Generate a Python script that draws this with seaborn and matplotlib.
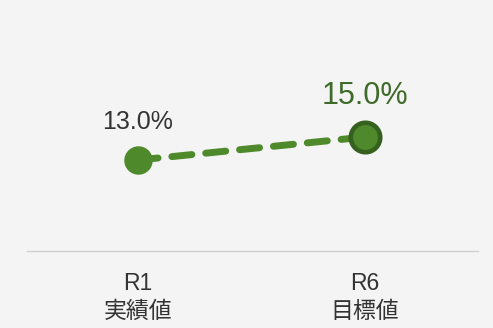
import matplotlib
matplotlib.use("Agg")
import matplotlib.pyplot as plt
import seaborn as sns
import pandas as pd

periods = ["R1", "R6"]
period_notes = ["実績値", "目標値"]
rates = [13.0, 15.0]
rate_labels = ["13.0%", "15.0%"]

sns.set_theme(style="white")
plt.rcParams["font.family"] = ["Liberation Sans", "Noto Sans CJK JP", "DejaVu Sans"]

bg = "#f4f4f4"
green = "#4e8a2c"
dark_green = "#35601e"

df = pd.DataFrame({"period": periods, "rate": rates})

fig = plt.figure(figsize=(4.93, 3.28), dpi=100, facecolor=bg)
ax = fig.add_axes([27 / 493, 1 - 251 / 328, 451 / 493, 251 / 328])
ax.set_facecolor(bg)

sns.lineplot(data=df, x="period", y="rate", ax=ax, color=green, linewidth=5,
             linestyle=(0, (2.9, 2.0)), dash_capstyle="round", zorder=2)
sns.scatterplot(data=df.iloc[[0]], x="period", y="rate", ax=ax, color=green,
                s=420, edgecolor=green, linewidth=0, zorder=3)
sns.scatterplot(data=df.iloc[[1]], x="period", y="rate", ax=ax, color=green,
                s=450, edgecolor=dark_green, linewidth=3.3, zorder=3)

ax.set_xlim(-0.489, 1.498)
ax.set_ylim(5.1, 26.9)

ax.text(0, rates[0] + 2.3, rate_labels[0], ha="center", va="bottom",
        fontsize=18, color="#333333")
ax.text(1, rates[1] + 2.3, rate_labels[1], ha="center", va="bottom",
        fontsize=22, color="#3f6b2a")

for s in ["top", "left", "right"]:
    ax.spines[s].set_visible(False)
ax.spines["bottom"].set_color("#cfcfcf")
ax.spines["bottom"].set_linewidth(1)

ax.set_xticks([0, 1])
ax.set_xticklabels([f"{p}\n{n}" for p, n in zip(periods, period_notes)],
                   fontsize=16.5, color="#333333", linespacing=1.3)
ax.tick_params(axis="x", length=0, pad=15)
ax.set_yticks([])
ax.set_xlabel("")
ax.set_ylabel("")

fig.savefig("out.png", dpi=100, facecolor=bg)
